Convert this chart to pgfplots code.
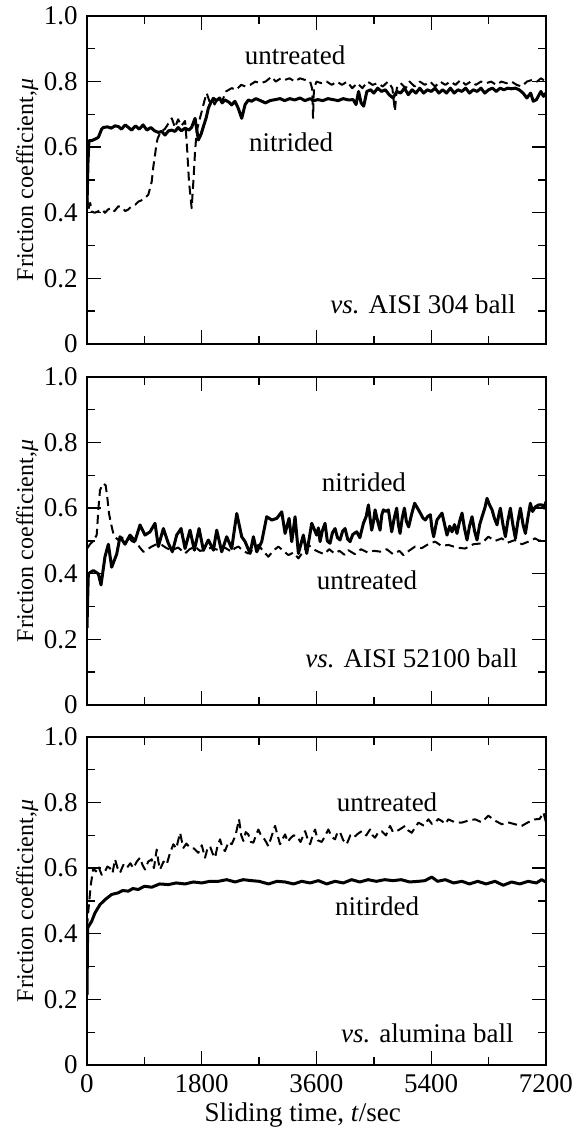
\documentclass[border=0pt]{standalone}
\usepackage{fontspec}
\setmainfont{Liberation Serif}
\usepackage{pgfplots}
\pgfplotsset{compat=1.18}

\pgfplotsset{
  fricaxis/.style={
    scale only axis, width=229.5pt, height=164pt,
    xmin=0, xmax=7200, ymin=0, ymax=1,
    xtick={0,1800,3600,5400,7200}, minor xtick={900,2700,4500,6300},
    ytick={0,0.2,0.4,0.6,0.8,1}, minor ytick={0.1,0.3,0.5,0.7,0.9},
    yticklabels={0,0.2,0.4,0.6,0.8,1.0},
    tick align=inside, major tick length=7pt, minor tick length=4pt,
    every tick/.style={black, line width=0.7pt},
    axis line style={line width=0.8pt},
    /pgf/number format/assume math mode=true,
    ylabel={Friction coefficient,\textit{μ}},
    ylabel style={at={(axis description cs:-0.13,0.5)}, anchor=center,
      font=\fontsize{12}{14}\selectfont},
  },
  nit/.style={black, line width=1.5pt, line join=round},
  unt/.style={black, line width=1pt, line join=round, dash pattern=on 4.5pt off 2.5pt},
}

\begin{document}
\fontsize{13.5}{16}\selectfont
\begin{tikzpicture}
\useasboundingbox (-43.5pt,-32pt) rectangle (244.5pt,532.5pt);

% --- vs. AISI 304 ---
\begin{axis}[fricaxis, at={(0,360.5pt)}, xticklabels={}]
\addplot[nit] coordinates {
(0,0.42) (15,0.55) (30,0.62) (73,0.62) (130,0.625) (178,0.63) (230,0.655) (256,0.66)
(320,0.662) (380,0.658) (440,0.665) (492,0.663) (540,0.655) (600,0.668) (650,0.66)
(700,0.652) (760,0.665) (820,0.655) (880,0.668) (940,0.652) (1000,0.66) (1060,0.65)
(1120,0.645) (1172,0.648) (1224,0.637) (1280,0.65) (1330,0.652) (1380,0.648) (1430,0.66)
(1480,0.65) (1540,0.658) (1600,0.652) (1640,0.66) (1695,0.688) (1747,0.622) (1790,0.64)
(1826,0.663) (1870,0.69) (1904,0.719) (1940,0.735) (1982,0.749) (2030,0.742) (2080,0.75)
(2120,0.735) (2165,0.744) (2220,0.738) (2270,0.729) (2320,0.74) (2370,0.72) (2427,0.688)
(2480,0.73) (2532,0.744) (2580,0.74) (2650,0.748) (2720,0.742) (2800,0.735) (2870,0.742)
(2950,0.745) (3030,0.748) (3100,0.742) (3180,0.748) (3260,0.744) (3340,0.75) (3420,0.742)
(3500,0.748) (3560,0.742) (3620,0.745) (3700,0.742) (3780,0.748) (3860,0.745) (3940,0.742)
(4020,0.748) (4100,0.744) (4175,0.745) (4220,0.73) (4260,0.77) (4300,0.735) (4340,0.725)
(4390,0.77) (4450,0.775) (4500,0.765) (4560,0.78) (4620,0.77) (4680,0.775) (4740,0.76)
(4800,0.75) (4860,0.77) (4920,0.765) (4980,0.78) (5040,0.76) (5100,0.775) (5160,0.765)
(5220,0.78) (5280,0.765) (5340,0.775) (5400,0.77) (5460,0.78) (5520,0.765) (5580,0.775)
(5640,0.765) (5700,0.78) (5760,0.765) (5820,0.775) (5880,0.77) (5940,0.78) (6000,0.765)
(6060,0.775) (6120,0.77) (6180,0.78) (6240,0.765) (6300,0.775) (6360,0.78) (6420,0.77)
(6480,0.78) (6540,0.775) (6600,0.78) (6660,0.778) (6720,0.78) (6780,0.775) (6840,0.765)
(6900,0.75) (6960,0.765) (7000,0.74) (7050,0.745) (7120,0.77) (7160,0.755) (7200,0.765)
};
\addplot[unt] coordinates {
(0,0.45) (20,0.41) (50,0.43) (73,0.404) (120,0.40) (180,0.405) (240,0.41) (282,0.40)
(330,0.41) (380,0.415) (430,0.405) (492,0.42) (560,0.415) (600,0.405) (648,0.41)
(700,0.42) (760,0.425) (805,0.434) (880,0.44) (962,0.455) (1015,0.495) (1040,0.54)
(1067,0.576) (1090,0.61) (1109,0.627) (1140,0.64) (1172,0.65) (1220,0.655) (1270,0.67)
(1330,0.688) (1380,0.66) (1430,0.685) (1480,0.665) (1538,0.68) (1564,0.617) (1600,0.495)
(1642,0.414) (1670,0.5) (1695,0.587) (1720,0.648) (1760,0.68) (1800,0.709) (1840,0.74)
(1878,0.765) (1920,0.74) (1960,0.75) (2000,0.73) (2060,0.75) (2120,0.74) (2180,0.77)
(2270,0.78) (2340,0.775) (2420,0.79) (2490,0.785) (2560,0.79) (2640,0.80) (2720,0.795)
(2800,0.80) (2897,0.815) (2960,0.80) (3040,0.81) (3100,0.805) (3180,0.81) (3260,0.80)
(3340,0.81) (3420,0.805) (3500,0.80) (3530,0.78) (3546,0.689) (3560,0.78) (3600,0.80)
(3680,0.795) (3760,0.80) (3840,0.79) (3920,0.80) (4000,0.79) (4080,0.80) (4160,0.78)
(4240,0.795) (4320,0.78) (4400,0.80) (4480,0.79) (4560,0.795) (4640,0.785) (4720,0.80)
(4790,0.78) (4830,0.71) (4860,0.78) (4920,0.795) (5000,0.78) (5060,0.80) (5140,0.785)
(5220,0.80) (5300,0.79) (5380,0.80) (5460,0.785) (5540,0.80) (5620,0.79) (5700,0.80)
(5780,0.79) (5860,0.805) (5940,0.79) (6020,0.80) (6100,0.79) (6180,0.80) (6260,0.795)
(6340,0.80) (6420,0.79) (6500,0.80) (6580,0.795) (6660,0.80) (6740,0.79) (6820,0.785)
(6900,0.80) (6980,0.805) (7060,0.80) (7120,0.81) (7200,0.80)
};
\node at (axis cs:3263,0.881) {untreated};
\node at (axis cs:3200,0.616) {nitrided};
\node[anchor=east] at (axis cs:6870,0.12) {\textit{vs.} AISI 304 ball};
\end{axis}

% --- vs. AISI 52100 ---
\begin{axis}[fricaxis, at={(0,180pt)}, xticklabels={}]
\addplot[nit] coordinates {
(0,0.235) (10,0.32) (21,0.40) (99,0.41) (178,0.40) (220,0.366) (282,0.452) (335,0.49)
(387,0.42) (466,0.46) (518,0.513) (596,0.49) (675,0.518) (753,0.50) (832,0.549)
(910,0.518) (989,0.528) (1067,0.554) (1119,0.483) (1198,0.538) (1276,0.493) (1339,0.467)
(1407,0.518) (1475,0.538) (1538,0.477) (1616,0.533) (1684,0.472) (1758,0.538) (1826,0.472)
(1904,0.503) (1983,0.472) (2035,0.533) (2113,0.467) (2192,0.513) (2270,0.477) (2349,0.584)
(2427,0.513) (2480,0.498) (2558,0.462) (2610,0.513) (2663,0.467) (2741,0.498) (2819,0.574)
(2898,0.564) (2977,0.569) (3055,0.589) (3107,0.523) (3170,0.569) (3212,0.498) (3264,0.574)
(3316,0.462) (3394,0.518) (3447,0.462) (3525,0.554) (3603,0.518) (3630,0.54) (3656,0.498)
(3690,0.53) (3734,0.554) (3770,0.50) (3812,0.493) (3850,0.525) (3891,0.538) (3930,0.51)
(3969,0.503) (4010,0.53) (4048,0.538) (4090,0.505) (4126,0.498) (4170,0.52) (4231,0.528)
(4280,0.51) (4336,0.554) (4380,0.575) (4414,0.610) (4440,0.57) (4466,0.533) (4495,0.56)
(4519,0.595) (4560,0.56) (4597,0.533) (4625,0.58) (4649,0.595) (4690,0.59) (4728,0.595)
(4755,0.56) (4780,0.528) (4820,0.57) (4858,0.600) (4885,0.55) (4911,0.523) (4945,0.57)
(4979,0.600) (5010,0.56) (5046,0.543) (5090,0.58) (5140,0.615) (5185,0.60) (5229,0.585)
(5270,0.57) (5307,0.564) (5345,0.575) (5386,0.580) (5410,0.54) (5438,0.513) (5465,0.54)
(5490,0.564) (5530,0.575) (5569,0.585) (5610,0.55) (5647,0.518) (5690,0.545) (5726,0.528)
(5765,0.55) (5804,0.523) (5845,0.56) (5883,0.585) (5920,0.54) (5961,0.503) (6000,0.545)
(6040,0.574) (6080,0.53) (6118,0.503) (6160,0.55) (6197,0.574) (6240,0.60) (6275,0.630)
(6315,0.61) (6354,0.595) (6390,0.57) (6432,0.549) (6460,0.58) (6484,0.600) (6525,0.55)
(6563,0.513) (6600,0.56) (6641,0.600) (6680,0.55) (6720,0.508) (6760,0.56) (6798,0.600)
(6840,0.55) (6877,0.523) (6915,0.57) (6955,0.615) (6990,0.59) (7034,0.604) (7085,0.61)
(7138,0.610) (7170,0.60) (7200,0.62)
};
\addplot[unt] coordinates {
(0,0.477) (47,0.49) (100,0.50) (152,0.518) (180,0.60) (204,0.655) (250,0.675) (293,0.67)
(320,0.63) (345,0.584) (380,0.55) (413,0.523) (450,0.51) (492,0.503) (560,0.51) (648,0.513)
(700,0.50) (779,0.493) (830,0.48) (884,0.467) (950,0.475) (1015,0.483) (1090,0.49)
(1172,0.488) (1250,0.478) (1328,0.472) (1430,0.48) (1538,0.462) (1610,0.475) (1695,0.483)
(1770,0.47) (1852,0.472) (1950,0.48) (2061,0.472) (2160,0.48) (2270,0.467) (2320,0.478)
(2375,0.483) (2450,0.47) (2531,0.462) (2610,0.475) (2688,0.488) (2760,0.47) (2845,0.452)
(2920,0.47) (3002,0.483) (3080,0.47) (3159,0.457) (3240,0.465) (3316,0.447) (3400,0.47)
(3473,0.488) (3550,0.475) (3630,0.467) (3720,0.46) (3800,0.475) (3880,0.462) (3960,0.47)
(4040,0.458) (4100,0.472) (4200,0.46) (4300,0.475) (4400,0.465) (4500,0.47) (4623,0.467)
(4700,0.475) (4800,0.46) (4900,0.47) (4963,0.457) (5050,0.47) (5146,0.483) (5250,0.478)
(5350,0.49) (5460,0.498) (5560,0.485) (5669,0.488) (5800,0.48) (5931,0.477) (6060,0.49)
(6193,0.493) (6297,0.513) (6400,0.50) (6506,0.508) (6600,0.495) (6715,0.503) (6820,0.49)
(6924,0.498) (7029,0.508) (7100,0.50) (7186,0.51)
};
\node at (axis cs:4345,0.68) {nitrided};
\node at (axis cs:4392,0.381) {untreated};
\node[anchor=east] at (axis cs:6902,0.143) {\textit{vs.} AISI 52100 ball};
\end{axis}

% --- vs. alumina ---
\begin{axis}[fricaxis, at={(0,0)}, xticklabels={0,1800,3600,5400,7200},
  xlabel={Sliding time, \textit{t}/sec},
  xlabel style={at={(axis description cs:0.47,0)}, yshift=-25pt, anchor=center}]
\addplot[nit] coordinates {
(0,0.214) (10,0.418) (73,0.438) (126,0.464) (204,0.489) (282,0.504) (387,0.52) (492,0.525)
(560,0.532) (648,0.53) (720,0.538) (805,0.535) (900,0.545) (1015,0.542) (1140,0.552)
(1276,0.55) (1400,0.555) (1538,0.552) (1670,0.558) (1800,0.555) (1930,0.56) (2061,0.56)
(2190,0.565) (2323,0.558) (2450,0.565) (2584,0.562) (2700,0.56) (2846,0.552) (2980,0.56)
(3107,0.558) (3240,0.552) (3370,0.56) (3500,0.555) (3630,0.562) (3760,0.552) (3890,0.56)
(4020,0.555) (4150,0.565) (4280,0.558) (4410,0.565) (4540,0.56) (4670,0.565) (4800,0.562)
(4930,0.565) (5060,0.558) (5200,0.56) (5300,0.562) (5408,0.573) (5500,0.56) (5620,0.565)
(5750,0.555) (5880,0.56) (6000,0.552) (6130,0.56) (6260,0.552) (6400,0.56) (6530,0.548)
(6660,0.558) (6790,0.552) (6920,0.56) (7050,0.555) (7130,0.565) (7200,0.558)
};
\addplot[unt] coordinates {
(0,0.42) (21,0.47) (60,0.55) (99,0.60) (140,0.59) (178,0.606) (230,0.58) (282,0.59)
(320,0.605) (361,0.60) (400,0.585) (440,0.627) (480,0.60) (518,0.586) (570,0.61) (622,0.60)
(680,0.615) (727,0.60) (780,0.62) (832,0.632) (870,0.61) (910,0.596) (960,0.62) (1015,0.627)
(1050,0.60) (1093,0.657) (1120,0.62) (1146,0.596) (1200,0.62) (1250,0.611) (1300,0.645)
(1355,0.673) (1400,0.66) (1460,0.708) (1490,0.68) (1512,0.662) (1560,0.675) (1616,0.662)
(1680,0.66) (1747,0.647) (1800,0.67) (1852,0.632) (1890,0.66) (1930,0.667) (1970,0.645)
(2009,0.632) (2050,0.67) (2087,0.688) (2120,0.665) (2165,0.652) (2220,0.68) (2270,0.673)
(2330,0.7) (2385,0.749) (2420,0.70) (2453,0.683) (2490,0.71) (2531,0.703) (2570,0.68)
(2610,0.678) (2650,0.70) (2688,0.718) (2730,0.70) (2767,0.693) (2810,0.68) (2845,0.667)
(2900,0.70) (2950,0.729) (2990,0.70) (3028,0.673) (3070,0.69) (3107,0.703) (3150,0.68)
(3185,0.69) (3240,0.70) (3290,0.698) (3350,0.68) (3421,0.713) (3460,0.69) (3499,0.673)
(3540,0.70) (3578,0.718) (3620,0.685) (3682,0.68) (3740,0.70) (3786,0.718) (3840,0.695)
(3891,0.688) (3930,0.71) (3969,0.71) (4020,0.685) (4074,0.673) (4130,0.70) (4179,0.693)
(4250,0.705) (4310,0.713) (4380,0.70) (4440,0.718) (4480,0.70) (4519,0.693) (4570,0.71)
(4623,0.713) (4690,0.70) (4754,0.729) (4800,0.71) (4858,0.713) (4920,0.72) (4989,0.729)
(5040,0.715) (5094,0.708) (5150,0.725) (5199,0.739) (5280,0.73) (5356,0.749) (5410,0.735)
(5460,0.739) (5510,0.75) (5565,0.744) (5620,0.735) (5669,0.749) (5770,0.74) (5878,0.739)
(5980,0.745) (6088,0.749) (6190,0.74) (6297,0.76) (6400,0.745) (6506,0.734) (6600,0.74)
(6715,0.734) (6820,0.729) (6920,0.74) (7029,0.749) (7100,0.75) (7160,0.77) (7200,0.74)
};
\node at (axis cs:4706,0.80) {untreated};
\node at (axis cs:4549,0.483) {nitirded};
\node[anchor=east] at (axis cs:6839,0.098) {\textit{vs.} alumina ball};
\end{axis}
\end{tikzpicture}
\end{document}
